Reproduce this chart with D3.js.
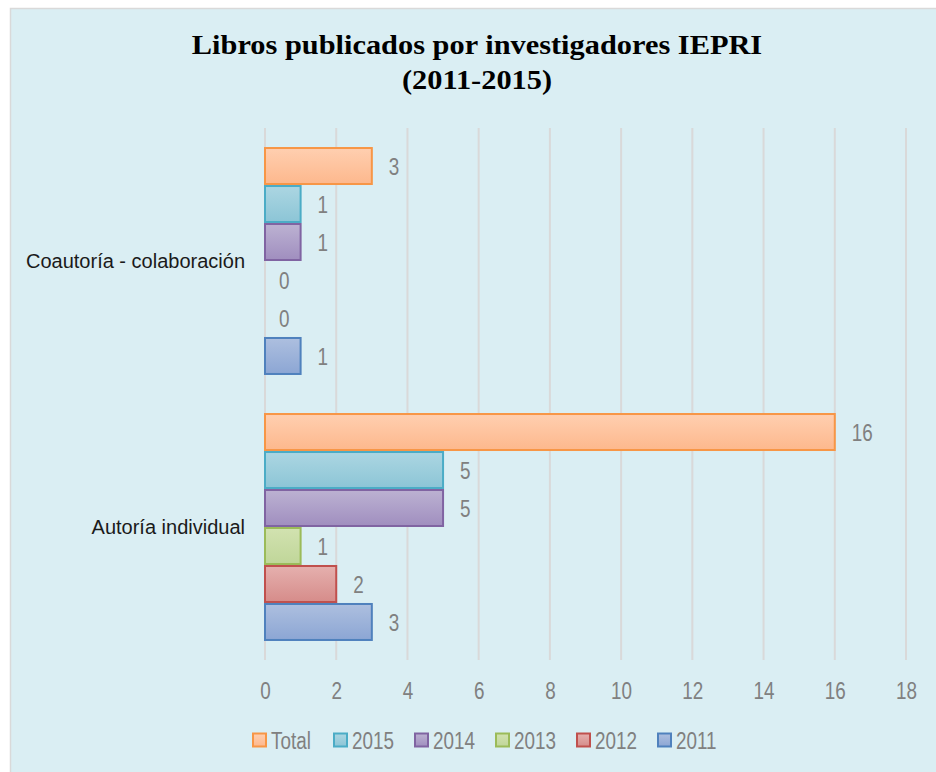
<!DOCTYPE html>
<html>
<head>
<meta charset="utf-8">
<script src="https://cdn.jsdelivr.net/npm/d3@7"></script>
<style>
  body { margin: 0; background: #fff; }
  svg { display: block; }
</style>
</head>
<body>
<svg id="chart" width="936" height="772"></svg>
<script>
var categories = ["Coautoría - colaboración", "Autoría individual"];
var seriesNames = ["Total", "2015", "2014", "2013", "2012", "2011"];
var seriesValues = [
    [3, 16],   // Total
    [1, 5],    // 2015
    [1, 5],    // 2014
    [0, 1],    // 2013
    [0, 2],    // 2012
    [1, 3]     // 2011
];
var xTicks = [0, 2, 4, 6, 8, 10, 12, 14, 16, 18];

var colours = {
    "Total": { top: "#ffcfb0", bottom: "#fdb88d", stroke: "#f79646" },
    "2015":  { top: "#acd6e2", bottom: "#8cc5d6", stroke: "#4bacc6" },
    "2014":  { top: "#bcb2d2", bottom: "#a08ebf", stroke: "#8064a2" },
    "2013":  { top: "#d2e2b0", bottom: "#c0d699", stroke: "#9bbb59" },
    "2012":  { top: "#e5b0ae", bottom: "#d68c8a", stroke: "#c0504d" },
    "2011":  { top: "#adbfdf", bottom: "#8ca6d4", stroke: "#4f81bd" }
};

// no narrow font available, so squeeze Liberation Sans horizontally
var sans = "'Liberation Sans', Arial, sans-serif";
var narrowScale = "scale(0.77,1)";
var numSize = 24.5;

var svg = d3.select("#chart");

// panel
svg.append("rect")
    .attr("x", 10.5).attr("y", 8.5)
    .attr("width", 936).attr("height", 772)
    .attr("fill", "#daeef3")
    .attr("stroke", "#d9d9d9")
    .attr("stroke-width", 1.5);

// gradients
var defs = svg.append("defs");
seriesNames.forEach(function(s, i) {
    var g = defs.append("linearGradient")
        .attr("id", "grad" + i)
        .attr("x1", 0).attr("y1", 0).attr("x2", 0).attr("y2", 1);
    g.append("stop").attr("offset", "0%").attr("stop-color", colours[s].top);
    g.append("stop").attr("offset", "100%").attr("stop-color", colours[s].bottom);
});

// title
var title = svg.append("g")
    .attr("transform", "translate(477,0) scale(1.085,1)")
    .append("text")
    .attr("text-anchor", "middle")
    .attr("font-family", "'Liberation Serif', 'DejaVu Serif', serif")
    .attr("font-weight", "bold")
    .attr("font-size", 28)
    .attr("fill", "#000");
title.append("tspan").attr("x", 0).attr("y", 54).text("Libros publicados por investigadores IEPRI");
title.append("tspan").attr("x", 0).attr("y", 89).text("(2011-2015)");

var plot = { left: 265, right: 906, top: 128, bottom: 660 };

var x = d3.scaleLinear()
    .domain([0, 18])
    .range([plot.left, plot.right]);

var y0 = d3.scaleBand()
    .domain(categories)
    .range([plot.top, plot.bottom])
    .paddingInner(0.143)
    .paddingOuter(0.0715);

var y1 = d3.scaleBand()
    .domain(seriesNames)
    .range([0, y0.bandwidth()]);

// grid lines
svg.append("g")
    .selectAll("line")
    .data(xTicks)
  .enter()
    .append("line")
    .attr("x1", function(d) { return x(d); })
    .attr("x2", function(d) { return x(d); })
    .attr("y1", plot.top)
    .attr("y2", plot.bottom)
    .attr("stroke", "#d9d9d9")
    .attr("stroke-width", 2);

// x axis labels
var xAxis = d3.axisBottom(x).tickValues(xTicks).tickSize(0).tickPadding(0);
var axisG = svg.append("g")
    .attr("transform", "translate(0," + 699 + ")")
    .call(xAxis);
axisG.select(".domain").remove();
axisG.selectAll("text")
    .attr("font-family", sans)
    .attr("font-size", numSize)
    .attr("fill", "#808080")
    .attr("dy", 0)
    .attr("transform", narrowScale);

// category labels
svg.append("g")
    .selectAll("text")
    .data(categories)
  .enter()
    .append("text")
    .attr("x", 245)
    .attr("y", function(d) { return y0(d) + y0.bandwidth() / 2; })
    .attr("dy", "0.35em")
    .attr("text-anchor", "end")
    .attr("font-family", sans)
    .attr("font-size", 20)
    .attr("fill", "#1a1a1a")
    .text(function(d) { return d; });

// bars
var groups = svg.append("g")
    .selectAll(".group")
    .data(categories)
  .enter()
    .append("g")
    .attr("class", "group")
    .attr("transform", function(d) { return "translate(0," + y0(d) + ")"; });

groups.each(function(cat, ci) {
    var g = d3.select(this);
    var rows = seriesNames.map(function(s, si) {
        return { series: s, index: si, value: seriesValues[si][ci] };
    });
    g.selectAll("rect")
        .data(rows.filter(function(d) { return d.value > 0; }))
      .enter()
        .append("rect")
        .attr("x", x(0))
        .attr("y", function(d) { return y1(d.series) + 1; })
        .attr("width", function(d) { return x(d.value) - x(0); })
        .attr("height", y1.bandwidth() - 2)
        .attr("fill", function(d) { return "url(#grad" + d.index + ")"; })
        .attr("stroke", function(d) { return colours[d.series].stroke; })
        .attr("stroke-width", 2);
    g.selectAll(".label")
        .data(rows)
      .enter()
        .append("text")
        .attr("class", "label")
        .attr("transform", function(d) {
            var lx = x(d.value) + (d.value > 0 ? 17 : 14);
            var ly = y1(d.series) + y1.bandwidth() / 2;
            return "translate(" + lx + "," + ly + ") " + narrowScale;
        })
        .attr("dy", "0.35em")
        .attr("font-family", sans)
        .attr("font-size", numSize)
        .attr("fill", "#808080")
        .text(function(d) { return d.value; });
});

// legend
var legend = svg.append("g")
    .attr("transform", "translate(252,740)");
var item = legend.selectAll(".item")
    .data(seriesNames)
  .enter()
    .append("g")
    .attr("class", "item")
    .attr("transform", function(d, i) { return "translate(" + (i * 81) + ",0)"; });
item.append("rect")
    .attr("x", 1).attr("y", -6.5)
    .attr("width", 13).attr("height", 13)
    .attr("fill", function(d, i) { return "url(#grad" + i + ")"; })
    .attr("stroke", function(d) { return colours[d].stroke; })
    .attr("stroke-width", 2);
item.append("text")
    .attr("transform", "translate(19,0) " + narrowScale)
    .attr("dy", "0.35em")
    .attr("font-family", sans)
    .attr("font-size", numSize)
    .attr("fill", "#808080")
    .text(function(d) { return d; });
</script>
</body>
</html>
